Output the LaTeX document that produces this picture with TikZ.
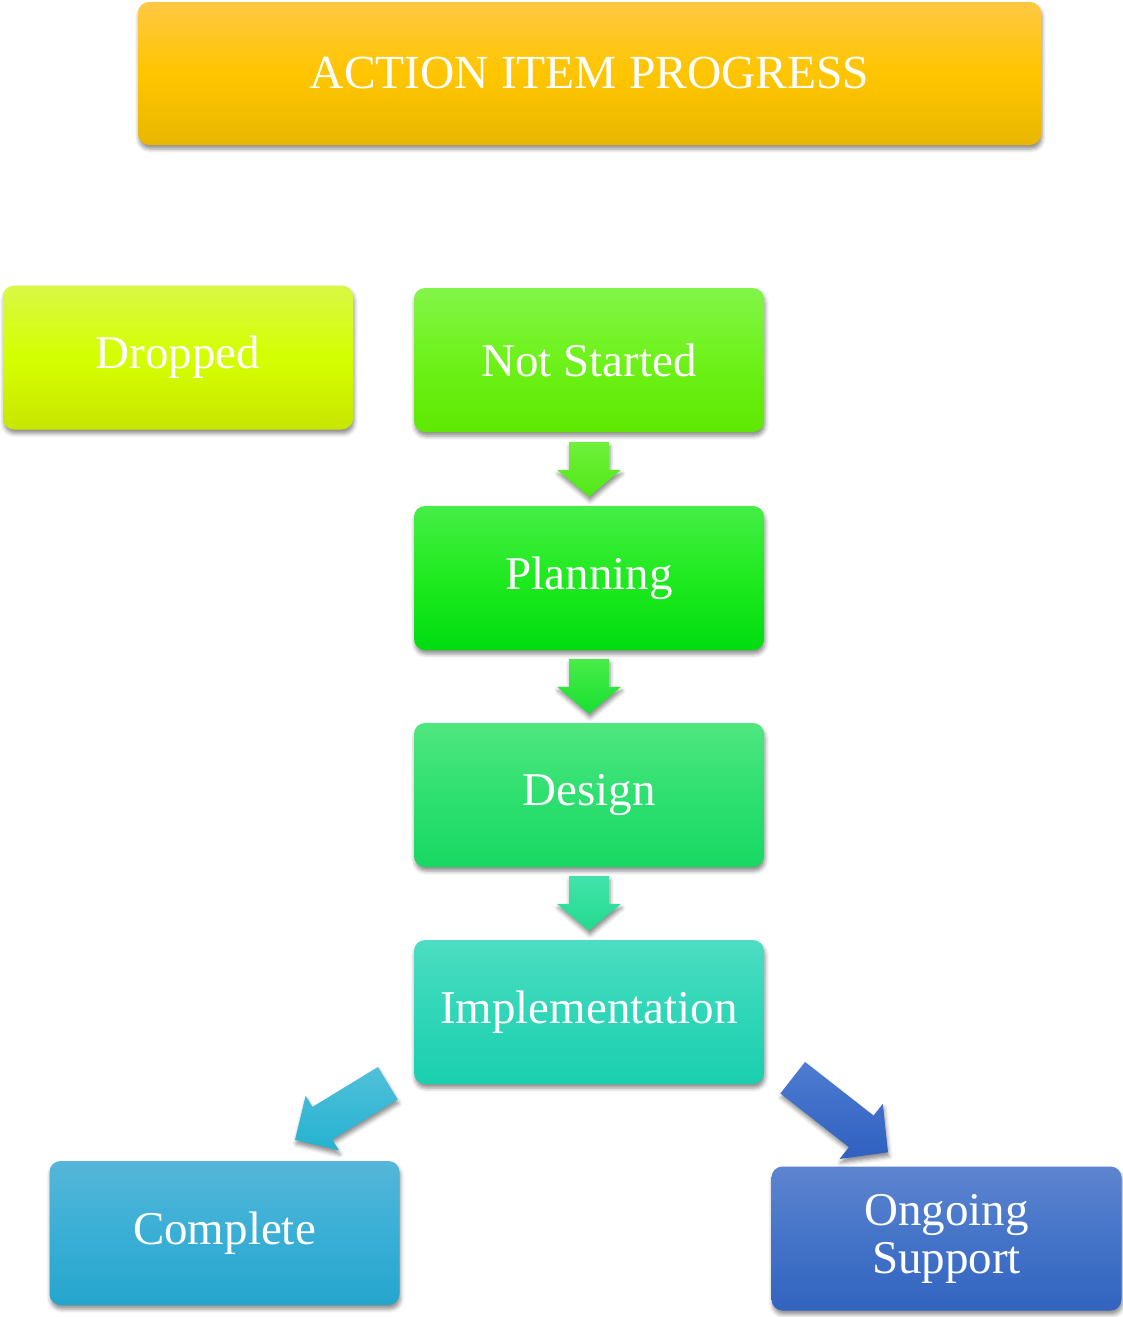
\documentclass[tikz,border=0pt]{standalone}
\usepackage{fontspec}
\setmainfont{Liberation Serif}
\usetikzlibrary{calc,shadows.blur}
\definecolor{tiT}{HTML}{FFC843}\definecolor{tiM}{HTML}{FFC500}\definecolor{tiB}{HTML}{E8B700}
\definecolor{drT}{HTML}{D8F845}\definecolor{drM}{HTML}{D4FF00}\definecolor{drB}{HTML}{C8E600}
\definecolor{nsT}{HTML}{82F548}\definecolor{nsM}{HTML}{6EF21A}\definecolor{nsB}{HTML}{5EE800}
\definecolor{plT}{HTML}{45EE45}\definecolor{plM}{HTML}{1FEA1F}\definecolor{plB}{HTML}{00DC10}
\definecolor{deT}{HTML}{50E680}\definecolor{deM}{HTML}{2EE070}\definecolor{deB}{HTML}{18D862}
\definecolor{imT}{HTML}{4DDDC2}\definecolor{imM}{HTML}{30D6B8}\definecolor{imB}{HTML}{1ACFAE}
\definecolor{coT}{HTML}{55B6D8}\definecolor{coM}{HTML}{3AAFD6}\definecolor{coB}{HTML}{25A5CC}
\definecolor{onT}{HTML}{5E84D0}\definecolor{onM}{HTML}{4474C8}\definecolor{onB}{HTML}{3264C0}
\definecolor{a1T}{HTML}{70F03A}\definecolor{a1B}{HTML}{50E818}
\definecolor{a2T}{HTML}{48EC48}\definecolor{a2B}{HTML}{18E030}
\definecolor{a3T}{HTML}{42E3AA}\definecolor{a3B}{HTML}{22DA8E}
\definecolor{a4T}{HTML}{52C0DA}\definecolor{a4B}{HTML}{24B2D0}
\definecolor{a5T}{HTML}{4E7CD2}\definecolor{a5B}{HTML}{2F60C0}
\newcommand\blockarr[6]{%
  \coordinate (H) at ($(#3)!#6!(#2)$);
  \shade[#1] ($(#2)!#4!90:(#3)$) -- ($(H)!#4!90:(#3)$) -- ($(H)!#5!90:(#3)$) -- (#3)
    -- ($(H)!#5!-90:(#3)$) -- ($(H)!#4!-90:(#3)$) -- ($(#2)!#4!-90:(#3)$) -- cycle;}
\begin{document}
\begin{tikzpicture}[x=1pt,y=-1pt,
  shad/.style={blur shadow={shadow xshift=1pt,shadow yshift=-4pt,shadow blur radius=4pt,shadow opacity=45}},
  stage/.style={shad,rounded corners=11pt,minimum width=350pt,minimum height=144pt,inner sep=0pt,
    text=white,font=\fontsize{47}{48}\selectfont,align=center},
  grad/.style n args={3}{top color=#1,bottom color=#3,middle color=#2},
  arrshade/.style n args={2}{shad,top color=#1,bottom color=#2}]
\useasboundingbox (0,0) rectangle (1123,1317);
\node[stage,grad={tiT}{tiM}{tiB},minimum width=903pt,minimum height=143pt,font=\fontsize{47.5}{48}\selectfont] (title) at (589.5,73.5) {ACTION ITEM PROGRESS};
\node[stage,grad={drT}{drM}{drB}] (drop) at (178,357.5) {Dropped};
\node[stage,grad={nsT}{nsM}{nsB}] (ns) at (589,360) {Not Started};
\node[stage,grad={plT}{plM}{plB}] (pl) at (589,578) {Planning};
\node[stage,grad={deT}{deM}{deB}] (de) at (589,795) {Design};
\node[stage,grad={imT}{imM}{imB}] (im) at (589,1012) {Implementation};
\node[stage,grad={coT}{coM}{coB}] (co) at (224.5,1233) {Complete};
\node[stage,grad={onT}{onM}{onB}] (on) at (946.5,1238.5) {Ongoing\\Support};
\coordinate (a1s) at ($(ns.south)+(0,10)$);  \coordinate (a1e) at ($(pl.north)+(0,-9)$);
\coordinate (a2s) at ($(pl.south)+(0,9)$);   \coordinate (a2e) at ($(de.north)+(0,-9)$);
\coordinate (a3s) at ($(de.south)+(0,9)$);   \coordinate (a3e) at ($(im.north)+(0,-9)$);
\coordinate (a4s) at ($(im.south west)+(-26,-1)$); \coordinate (a4e) at ($(co.north)+(70.5,-21)$);
\coordinate (a5s) at ($(im.south east)+(28.5,-6.5)$); \coordinate (a5e) at ($(on.north)+(-58.5,-14)$);
\blockarr{arrshade={a1T}{a1B}}{a1s}{a1e}{20pt}{32pt}{27pt}
\blockarr{arrshade={a2T}{a2B}}{a2s}{a2e}{20pt}{32pt}{27pt}
\blockarr{arrshade={a3T}{a3B}}{a3s}{a3e}{20pt}{32pt}{27pt}
\blockarr{arrshade={a4T}{a4B}}{a4s}{a4e}{19pt}{32pt}{32pt}
\blockarr{arrshade={a5T}{a5B}}{a5s}{a5e}{20pt}{35pt}{34pt}
\end{tikzpicture}
\end{document}
